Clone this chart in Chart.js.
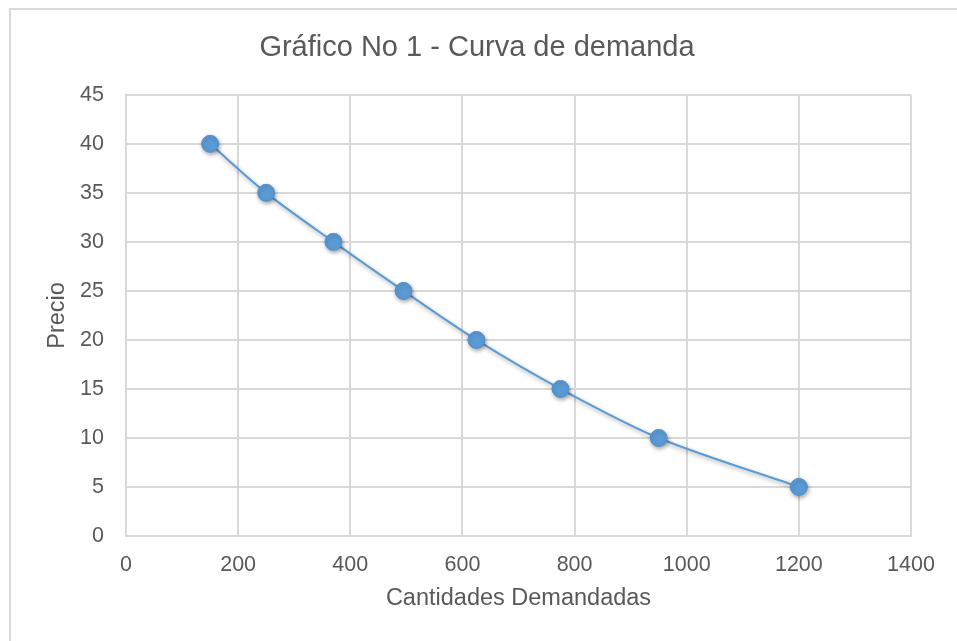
<!DOCTYPE html>
<html>
<head>
<meta charset="utf-8">
<script src="https://cdn.jsdelivr.net/npm/chart.js@4"></script>
<style>
  html, body { margin: 0; padding: 0; background: #fff; }
  #wrap { position: relative; width: 957px; height: 641px; overflow: hidden; }
  #frame { position: absolute; left: 9px; top: 8px; width: 1000px; height: 700px; border: 2px solid #D9D9D9; box-sizing: border-box; }
  #chart { position: absolute; left: 0; top: 0; }
</style>
</head>
<body>
<div id="wrap">
  <div id="frame"></div>
  <canvas id="chart" width="957" height="641"></canvas>
</div>
<script>
// cantidades demandadas (eje x) y precio (eje y)
var cantidades = [150, 250, 370, 495, 625, 775, 950, 1200];
var precios = [40, 35, 30, 25, 20, 15, 10, 5];

// marcas de los ejes
var marcasX = [0, 200, 400, 600, 800, 1000, 1200, 1400];
var marcasY = [0, 5, 10, 15, 20, 25, 30, 35, 40, 45];

var titulo = 'Gráfico No 1 - Curva de demanda';
var tituloX = 'Cantidades Demandadas';
var tituloY = 'Precio';

var puntos = cantidades.map(function (c, i) { return { x: c, y: precios[i] }; });

var fuente = 'Liberation Sans, Arial, sans-serif';
var gris = '#595959';

var sombra = {
  id: 'sombra',
  beforeDatasetsDraw: function (chart) {
    var ctx = chart.ctx;
    ctx.save();
    ctx.shadowColor = 'rgba(0,0,0,0.35)';
    ctx.shadowBlur = 4;
    ctx.shadowOffsetX = 1;
    ctx.shadowOffsetY = 2;
  },
  afterDatasetsDraw: function (chart) {
    chart.ctx.restore();
  }
};

var ctx = document.getElementById('chart').getContext('2d');

new Chart(ctx, {
  type: 'scatter',
  data: {
    datasets: [{
      label: tituloY,
      data: puntos,
      showLine: true,
      tension: 0.3,
      borderColor: '#5B9BD5',
      borderWidth: 2,
      pointRadius: 8.5,
      pointHoverRadius: 8.5,
      pointBackgroundColor: '#5B9BD5',
      pointBorderColor: '#4F8FCB',
      pointBorderWidth: 1
    }]
  },
  options: {
    responsive: false,
    animation: false,
    layout: { padding: { left: 43, right: 46, top: 31, bottom: 28 } },
    plugins: {
      legend: { display: false },
      tooltip: { enabled: false },
      title: {
        display: true,
        text: titulo,
        color: gris,
        font: { family: fuente, size: 29, weight: 'normal' },
        padding: { top: 0, bottom: 29 }
      }
    },
    scales: {
      x: {
        type: 'linear',
        min: marcasX[0],
        max: marcasX[marcasX.length - 1],
        afterBuildTicks: function (scale) {
          scale.ticks = marcasX.map(function (v) { return { value: v }; });
        },
        afterFit: function (scale) { scale.height = 77; },
        ticks: {
          color: gris,
          font: { family: fuente, size: 21.5 },
          padding: 16,
          callback: function (v) { return String(v); }
        },
        grid: { color: '#D9D9D9', lineWidth: 2, drawTicks: false },
        border: { color: '#D9D9D9', width: 2 },
        title: {
          display: true,
          text: tituloX,
          color: gris,
          font: { family: fuente, size: 23.5 },
          padding: { top: 0, bottom: 0 }
        }
      },
      y: {
        min: marcasY[0],
        max: marcasY[marcasY.length - 1],
        afterBuildTicks: function (scale) {
          scale.ticks = marcasY.map(function (v) { return { value: v }; });
        },
        afterFit: function (scale) { scale.width = 83; },
        ticks: {
          color: gris,
          font: { family: fuente, size: 21.5 },
          padding: 22,
          callback: function (v) { return String(v); }
        },
        grid: { color: '#D9D9D9', lineWidth: 2, drawTicks: false },
        border: { color: '#D9D9D9', width: 2 },
        title: {
          display: true,
          text: tituloY,
          color: gris,
          font: { family: fuente, size: 23.5 },
          padding: { top: 0, bottom: 11 }
        }
      }
    }
  },
  plugins: [sombra]
});
</script>
</body>
</html>
